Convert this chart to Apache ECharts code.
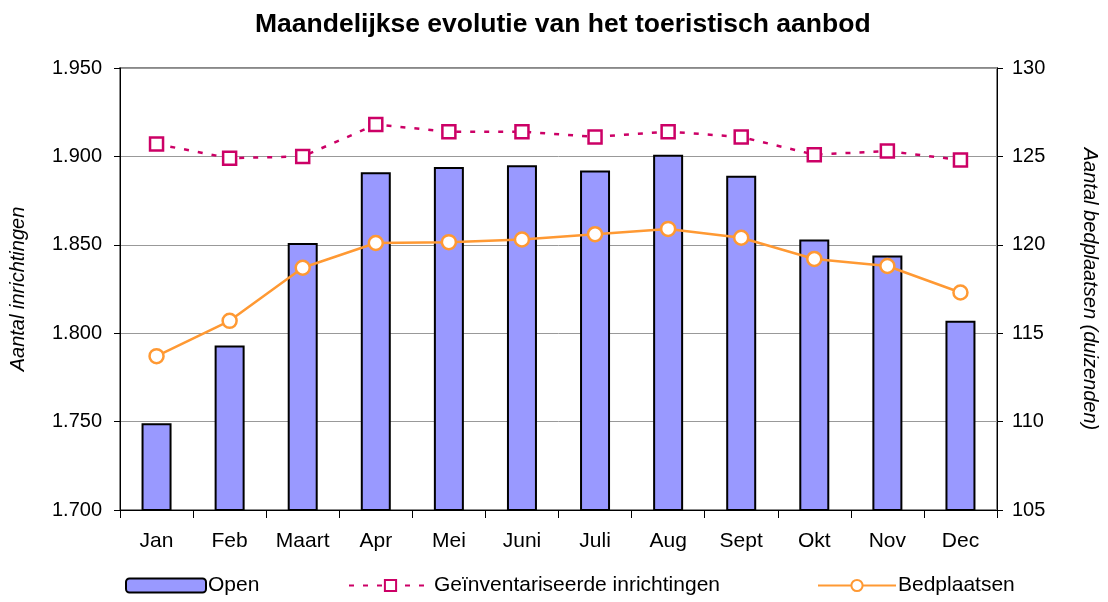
<!DOCTYPE html>
<html><head><meta charset="utf-8">
<script src="https://cdn.jsdelivr.net/npm/echarts@6/dist/echarts.min.js"></script>
<style>html,body{margin:0;padding:0;background:#fff;overflow:hidden}#c{width:1108px;height:602px}</style>
</head><body><div id="c"></div>
<script>
const categories = ['Jan','Feb','Maart','Apr','Mei','Juni','Juli','Aug','Sept','Okt','Nov','Dec'];
const openValues = [1749,1793,1851,1891,1894,1895,1892,1901,1889,1853,1844,1807];
const inventoried = [1907,1899,1900,1918,1914,1914,1911,1914,1911,1901,1903,1898];
const bedplaatsen = [113.7,115.7,118.7,120.1,120.15,120.3,120.6,120.9,120.4,119.2,118.8,117.3];
const leftTicks = {min:1700, max:1950, interval:50};
const rightTicks = {min:105, max:130, interval:5};

const FONT = '"Liberation Sans", Arial, sans-serif';
const chart = echarts.init(document.getElementById('c'), null, {renderer:'canvas'});
const legText = {fontFamily:FONT, fontSize:21, color:'#000', padding:[0,0,0,-3]};
chart.setOption({
  animation:false,
  backgroundColor:'#fff',
  textStyle:{fontFamily:FONT},
  title:{text:'Maandelijkse evolutie van het toeristisch aanbod', left:250, top:6,
    textStyle:{fontFamily:FONT, fontSize:26.5, fontWeight:'bold', color:'#000'}},
  grid:{left:109, right:103, top:68, bottom:92, show:true, borderColor:'#888', borderWidth:2, backgroundColor:'transparent'},
  legend:[
    {data:['Open'], left:120, top:570, itemWidth:80, itemHeight:14, textStyle:legText},
    {data:['Geïnventariseerde inrichtingen'], left:343, top:570, itemWidth:83, itemHeight:14, textStyle:legText},
    {data:['Bedplaatsen'], left:812, top:570, itemWidth:78, itemHeight:14, textStyle:legText}
  ],
  xAxis:{type:'category', data:categories, boundaryGap:true,
    axisLine:{lineStyle:{color:'#000', width:1}},
    axisTick:{show:true, alignWithLabel:false, length:8, lineStyle:{color:'#000'}},
    axisLabel:{fontFamily:FONT, fontSize:21, color:'#000', margin:21}},
  yAxis:[
    {type:'value', min:leftTicks.min, max:leftTicks.max, interval:leftTicks.interval, position:'left',
      name:'Aantal inrichtingen', nameLocation:'middle', nameGap:92,
      nameTextStyle:{fontFamily:FONT, fontSize:20, fontStyle:'italic', color:'#000'},
      axisLine:{show:true, lineStyle:{color:'#000'}},
      axisTick:{show:true, length:6, lineStyle:{color:'#000'}},
      axisLabel:{fontFamily:FONT, fontSize:20, color:'#000', margin:18,
        formatter:v=>(v/1000).toFixed(3)},
      splitLine:{show:true, lineStyle:{color:'#999', width:1}}},
    {type:'value', min:rightTicks.min, max:rightTicks.max, interval:rightTicks.interval, position:'right',
      name:'Aantal bedplaatsen (duizenden)', nameLocation:'middle', nameGap:83, nameRotate:-90,
      nameTextStyle:{fontFamily:FONT, fontSize:20, fontStyle:'italic', color:'#000'},
      axisLine:{show:true, lineStyle:{color:'#000'}},
      axisTick:{show:true, length:6, lineStyle:{color:'#000'}},
      axisLabel:{fontFamily:FONT, fontSize:20, color:'#000', margin:15},
      splitLine:{show:false}}
  ],
  series:[
    {name:'Open', type:'bar', data:openValues, yAxisIndex:0, barWidth:30,
      itemStyle:{color:'#9999FF', borderColor:'#000', borderWidth:2}},
    {name:'Geïnventariseerde inrichtingen', type:'line', data:inventoried, yAxisIndex:0,
      symbol:'rect', symbolSize:13,
      lineStyle:{color:'#CC0066', width:2.5, type:[5,9]},
      itemStyle:{color:'#fff', borderColor:'#CC0066', borderWidth:2.5}},
    {name:'Bedplaatsen', type:'line', data:bedplaatsen, yAxisIndex:1,
      symbol:'circle', symbolSize:14,
      lineStyle:{color:'#FF9933', width:2.5},
      itemStyle:{color:'#fff', borderColor:'#FF9933', borderWidth:2.5}}
  ]
});
</script></body></html>
